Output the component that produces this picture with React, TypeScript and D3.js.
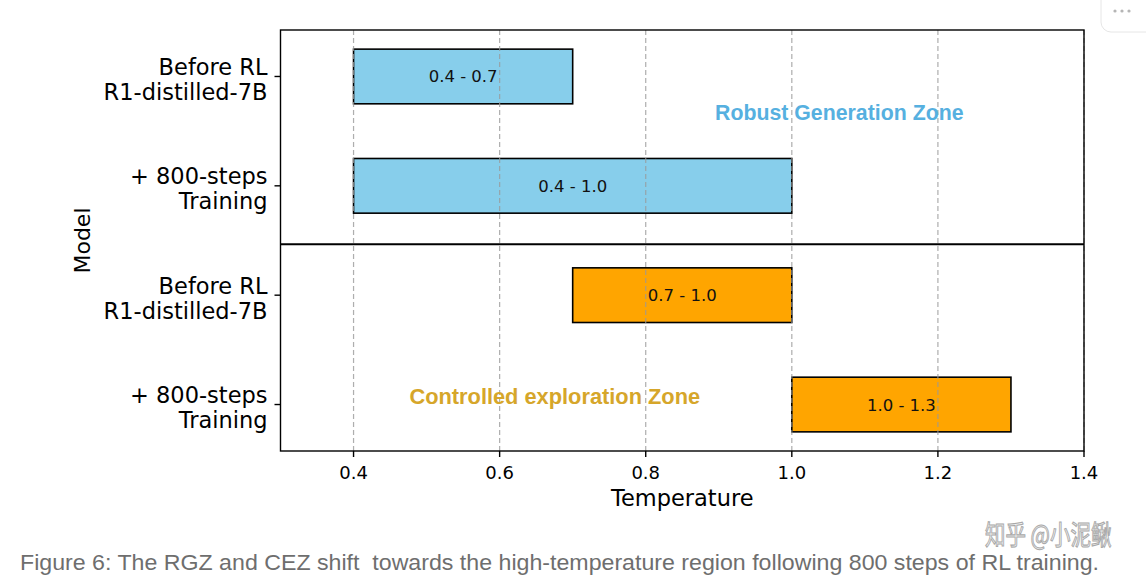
import { useMemo } from 'react'
import { scaleLinear } from 'd3'

// rows top -> bottom
const MODELS = [
  ['Before RL', 'R1-distilled-7B'],
  ['+ 800-steps', 'Training'],
  ['Before RL', 'R1-distilled-7B'],
  ['+ 800-steps', 'Training'],
]
const RANGE_START = [0.4, 0.4, 0.7, 1.0]
const RANGE_END = [0.7, 1.0, 1.0, 1.3]
const ZONE = ['RGZ', 'RGZ', 'CEZ', 'CEZ']
const X_TICKS = [0.4, 0.6, 0.8, 1.0, 1.2, 1.4]
const SEPARATOR_AT = 1.535

const ZONE_FILL: Record<string, string> = { RGZ: '#87CEEB', CEZ: '#FFA500' }

const W = 1146
const H = 580
const FONT = "'DejaVu Sans', sans-serif"
const SANS = "'Liberation Sans', Arial, sans-serif"

export default function App() {
  const { x, y } = useMemo(() => {
    const x = scaleLinear().domain([0.3, 1.4]).range([280.5, 1084])
    const y = scaleLinear().domain([-0.425, 3.425]).range([30, 451])
    return { x, y }
  }, [])

  const barH = y(0.5) - y(0)
  const [left, right] = x.range()
  const [top, bottom] = y.range()

  return (
    <svg
      width={W}
      height={H}
      viewBox={`0 0 ${W} ${H}`}
      style={{ position: 'absolute', left: 0, top: 0, background: '#fff' }}
    >
      {/* bars */}
      {MODELS.map((_, i) => (
        <rect
          key={`bar-${i}`}
          x={x(RANGE_START[i])}
          y={y(i) - barH / 2}
          width={x(RANGE_END[i]) - x(RANGE_START[i])}
          height={barH}
          fill={ZONE_FILL[ZONE[i]]}
          stroke="#000"
          strokeWidth={1.6}
        />
      ))}

      {/* dashed grid, over the bars */}
      {X_TICKS.map((t) => (
        <line
          key={`g-${t}`}
          x1={x(t)}
          x2={x(t)}
          y1={top}
          y2={bottom}
          stroke="#9a9a9a"
          strokeWidth={1.2}
          strokeDasharray="5,3"
          opacity={0.8}
        />
      ))}

      {/* bar labels */}
      {MODELS.map((_, i) => (
        <text
          key={`bl-${i}`}
          x={(x(RANGE_START[i]) + x(RANGE_END[i])) / 2}
          y={y(i) + 6}
          textAnchor="middle"
          fontFamily={FONT}
          fontSize={16.5}
          fill="#111"
        >
          {`${RANGE_START[i].toFixed(1)} - ${RANGE_END[i].toFixed(1)}`}
        </text>
      ))}

      {/* group separator */}
      <line x1={left} x2={right} y1={y(SEPARATOR_AT)} y2={y(SEPARATOR_AT)} stroke="#000" strokeWidth={2} />

      {/* zone annotations */}
      <text
        x={x(1.065)}
        y={y(0.33) + 7}
        textAnchor="middle"
        fontFamily={SANS}
        fontWeight="bold"
        fontSize={21.3}
        fill="#56B0E0"
      >
        Robust Generation Zone
      </text>
      <text
        x={x(0.6755)}
        y={y(2.93) + 7}
        textAnchor="middle"
        fontFamily={SANS}
        fontWeight="bold"
        fontSize={21.8}
        fill="#D6A62A"
      >
        Controlled exploration Zone
      </text>

      {/* frame */}
      <rect x={left} y={top} width={right - left} height={bottom - top} fill="none" stroke="#000" strokeWidth={1.4} />

      {/* x axis */}
      {X_TICKS.map((t) => (
        <g key={`xt-${t}`}>
          <line x1={x(t)} x2={x(t)} y1={bottom} y2={bottom + 6} stroke="#000" strokeWidth={1.4} />
          <text x={x(t)} y={bottom + 28} textAnchor="middle" fontFamily={FONT} fontSize={18} fill="#000">
            {t.toFixed(1)}
          </text>
        </g>
      ))}
      <text x={(left + right) / 2} y={506} textAnchor="middle" fontFamily={FONT} fontSize={22.5} fill="#000">
        Temperature
      </text>

      {/* y axis */}
      {MODELS.map((lines, i) => (
        <g key={`yt-${i}`}>
          <line x1={left - 6} x2={left} y1={y(i)} y2={y(i)} stroke="#000" strokeWidth={1.4} />
          <text textAnchor="end" fontFamily={FONT} fontSize={22.5} fill="#000">
            <tspan x={left - 13} y={y(i) - 1.5}>{lines[0]}</tspan>
            <tspan x={left - 13} y={y(i) + 23.5}>{lines[1]}</tspan>
          </text>
        </g>
      ))}
      <text
        transform={`translate(90, ${(top + bottom) / 2}) rotate(-90)`}
        textAnchor="middle"
        fontFamily={FONT}
        fontSize={22}
        fill="#000"
      >
        Model
      </text>

      {/* caption */}
      <text
        x={20}
        y={570}
        fontFamily={SANS}
        fontSize={21.5}
        fill="#6e6e6e"
        textLength={1079}
        lengthAdjust="spacingAndGlyphs"
        style={{ whiteSpace: 'pre' }}
      >
        {'Figure 6: The RGZ and CEZ shift  towards the high-temperature region following 800 steps of RL training.'}
      </text>

      {/* watermark: narrow, tall glyphs */}
      <text
        transform="translate(985, 545) scale(1, 1.35)"
        fontFamily="'Noto Sans CJK SC', sans-serif"
        fontSize={20.5}
        fill="#f4f4f4"
        stroke="#a8a8a8"
        strokeWidth={0.8}
      >
        知乎 @小泥鳅
      </text>

      {/* corner menu button */}
      <rect x={1101} y={-12} width={60} height={44} rx={10} fill="#fff" stroke="#e6e6e6" />
      {[0, 1, 2].map((k) => (
        <circle key={k} cx={1115 + k * 7} cy={11} r={1.6} fill="#b5b5b5" />
      ))}
    </svg>
  )
}
